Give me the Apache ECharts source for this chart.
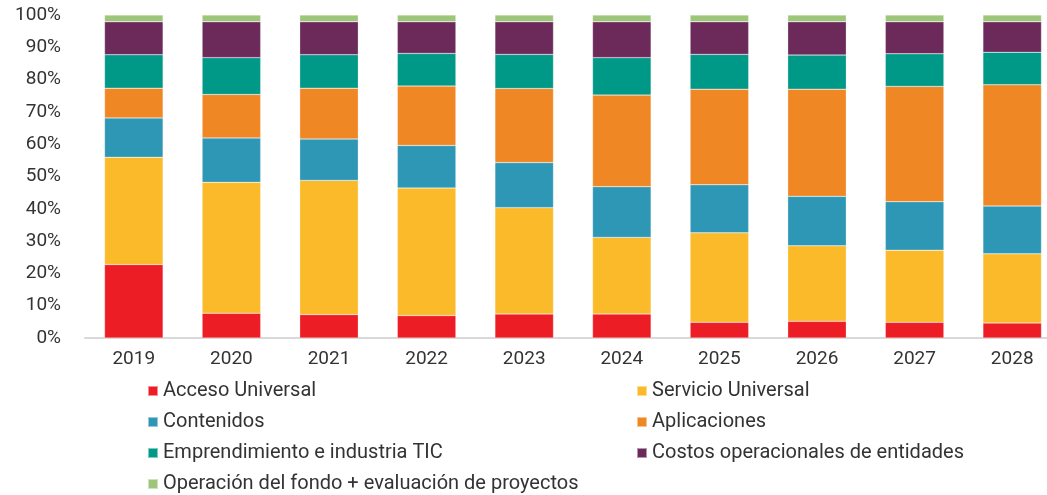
<!DOCTYPE html>
<html>
<head>
<meta charset="utf-8">
<script src="https://cdn.jsdelivr.net/npm/echarts@6/dist/echarts.min.js"></script>
<style>
  html, body { margin: 0; padding: 0; background: #ffffff; }
  #chart { width: 1047px; height: 495px; }
</style>
</head>
<body>
<div id="chart"></div>
<script>
// Years on the category axis
const years = ['2019', '2020', '2021', '2022', '2023', '2024', '2025', '2026', '2027', '2028'];

// Share of each budget line per year (percent, each year sums to ~100)
const accesoUniversal   = [22.75, 7.65, 7.25, 6.95, 7.45, 7.45, 4.85, 5.15, 4.85, 4.65];
const servicioUniversal = [33.20, 40.55, 41.55, 39.50, 32.90, 23.70, 27.70, 23.40, 22.35, 21.40];
const contenidos        = [12.20, 13.75, 12.80, 13.15, 13.95, 15.70, 14.90, 15.30, 15.00, 14.80];
const aplicaciones      = [9.20, 13.45, 15.75, 18.40, 22.95, 28.35, 29.60, 33.20, 35.70, 37.55];
const emprendimiento    = [10.35, 11.40, 10.35, 10.10, 10.55, 11.60, 10.75, 10.55, 10.10, 10.05];
const costosEntidades   = [10.20, 11.10, 10.20, 9.80, 10.10, 11.10, 10.10, 10.30, 9.90, 9.45];
const operacionFondo    = [2.10, 2.10, 2.10, 2.10, 2.10, 2.10, 2.10, 2.10, 2.10, 2.10];

// Y axis tick values (percent)
const yMin = 0, yMax = 100, yStep = 10;

const seriesDefs = [
  { name: 'Acceso Universal', data: accesoUniversal, color: '#ED1D25' },
  { name: 'Servicio Universal', data: servicioUniversal, color: '#FBBA29' },
  { name: 'Contenidos', data: contenidos, color: '#2E97B5' },
  { name: 'Aplicaciones', data: aplicaciones, color: '#F08725' },
  { name: 'Emprendimiento e industria TIC', data: emprendimiento, color: '#009886' },
  { name: 'Costos operacionales de entidades', data: costosEntidades, color: '#6C2A5B' },
  { name: 'Operación del fondo + evaluación de proyectos', data: operacionFondo, color: '#9DC67A' }
];

const fontFamily = 'Roboto, "Noto Sans", sans-serif';
const textColor = '#333333';

const legendText = { color: textColor, fontSize: 20, fontFamily: fontFamily, lineHeight: 20 };
const legendCommon = {
  orient: 'vertical',
  icon: 'rect',
  itemWidth: 10,
  itemHeight: 10,
  itemGap: 11,
  padding: 0,
  selectedMode: false,
  textStyle: legendText
};

const chart = echarts.init(document.getElementById('chart'), null, { renderer: 'canvas' });

chart.setOption({
  animation: false,
  backgroundColor: '#ffffff',
  color: seriesDefs.map(s => s.color),
  // the plot runs a little past the right edge, so the last bar sits close to it
  grid: {
    left: 85, top: 15, width: 976, height: 323,
    containLabel: false,
    outerBoundsMode: 'none'
  },
  legend: [
    Object.assign({}, legendCommon, {
      left: 147, top: 381,
      data: ['Acceso Universal', 'Contenidos', 'Emprendimiento e industria TIC', 'Operación del fondo + evaluación de proyectos']
    }),
    Object.assign({}, legendCommon, {
      left: 636, top: 381,
      data: ['Servicio Universal', 'Aplicaciones', 'Costos operacionales de entidades']
    })
  ],
  xAxis: {
    type: 'category',
    data: years,
    axisTick: { show: false },
    axisLine: { show: true, lineStyle: { color: '#d9d9d9', width: 2 } },
    axisLabel: { color: textColor, fontSize: 19, fontFamily: fontFamily, margin: 12 }
  },
  yAxis: {
    type: 'value',
    min: yMin,
    max: yMax,
    interval: yStep,
    splitLine: { show: false },
    axisLine: { show: false },
    axisTick: { show: false },
    axisLabel: {
      color: textColor, fontSize: 19, fontFamily: fontFamily, margin: 24,
      formatter: '{value}%'
    }
  },
  series: seriesDefs.map(s => ({
    name: s.name,
    type: 'bar',
    stack: 'total',
    barCategoryGap: '40%',
    data: s.data,
    itemStyle: { color: s.color, borderColor: 'rgba(255,255,255,0.5)', borderWidth: 0.5 }
  }))
});
</script>
</body>
</html>
